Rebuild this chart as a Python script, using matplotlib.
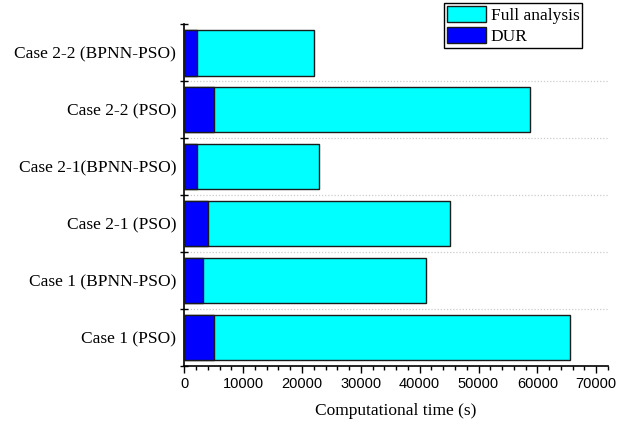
import matplotlib
matplotlib.use("Agg")
import matplotlib.pyplot as plt
import numpy as np
from matplotlib.ticker import MultipleLocator, FixedLocator, NullFormatter

categories = ["Case 1 (PSO)", "Case 1 (BPNN-PSO)", "Case 2-1 (PSO)",
              "Case 2-1(BPNN-PSO)", "Case 2-2 (PSO)", "Case 2-2 (BPNN-PSO)"]
full_analysis = [65500, 41100, 45200, 22900, 58700, 22100]
dur = [5000, 3200, 4000, 2200, 5000, 2100]

serif = "Liberation Serif"
sans = "Liberation Sans"

fig = plt.figure(figsize=(6.3, 4.25), dpi=100)
ax = fig.add_axes([0.2926, 0.1395, 0.965 - 0.2926, 0.9428 - 0.1395])

y = np.arange(len(categories))
ax.barh(y, full_analysis, height=0.8, color="#00FFFF", edgecolor="#1a1a1a",
        linewidth=1.0, label="Full analysis", zorder=3)
ax.barh(y, dur, height=0.8, color="#0000FF", edgecolor="#1a1a1a",
        linewidth=1.0, label="DUR", zorder=4)

ax.set_xlim(0, 72000)
ax.set_ylim(-0.5, len(categories) - 0.5)

# x ticks
ax.xaxis.set_major_locator(FixedLocator(np.arange(0, 70001, 10000)))
ax.xaxis.set_minor_locator(MultipleLocator(2000))
ax.tick_params(axis="x", which="major", direction="out", length=5, width=1,
               labelsize=10.5, pad=3)
ax.tick_params(axis="x", which="minor", direction="out", length=3, width=1)
for lab in ax.get_xticklabels():
    lab.set_fontfamily(sans)

# y ticks: major at boundaries (no labels), minor at centers (labels)
bounds = np.arange(-0.5, len(categories), 1.0)
ax.yaxis.set_major_locator(FixedLocator(bounds))
ax.yaxis.set_major_formatter(NullFormatter())
ax.yaxis.set_minor_locator(FixedLocator(y))
ax.set_yticklabels(categories, minor=True, fontfamily=serif, fontsize=12.5)
ax.tick_params(axis="y", which="major", direction="inout", length=6, width=1)
ax.tick_params(axis="y", which="minor", length=0, pad=6)

for b in bounds[1:-1]:
    ax.axhline(b, color="#cccccc", linestyle=(0, (1, 1.5)), linewidth=0.9, zorder=1)

for s in ["top", "right"]:
    ax.spines[s].set_visible(False)
for s in ["left", "bottom"]:
    ax.spines[s].set_linewidth(1.2)

ax.set_xlabel("Computational time (s)", fontfamily=serif, fontsize=12.5, labelpad=9)

leg = ax.legend(loc="upper left", bbox_to_anchor=(444 / 630, 1 - 3 / 425),
                bbox_transform=fig.transFigure, prop={"family": serif, "size": 12.5},
                frameon=True, fancybox=False, edgecolor="black", framealpha=1,
                borderpad=0.15, handlelength=2.25, handleheight=1.1,
                handletextpad=0.3, labelspacing=0.17, borderaxespad=0)
leg.get_frame().set_linewidth(1.0)

fig.savefig("out.png", dpi=100)
